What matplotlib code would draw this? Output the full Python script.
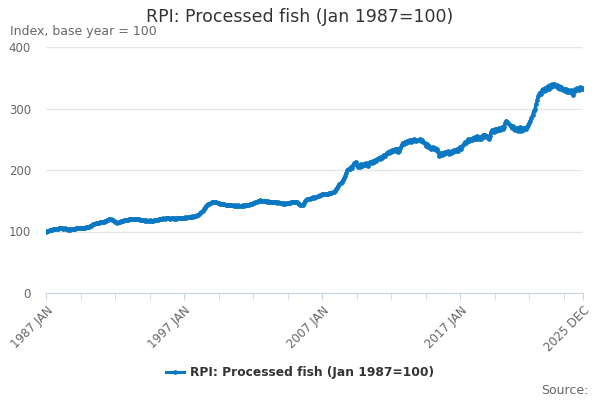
import numpy as np
import matplotlib.pyplot as plt

# Monthly index values, Jan 1987 - Dec 2025 (one row per year)
rpi_fish = [
    100.0, 100.8, 101.5, 102.3, 103.0, 102.6, 103.4, 104.1, 103.8, 104.5, 104.2, 104.9,  # 1987
    105.3, 105.0, 105.6, 104.8, 105.2, 104.1, 103.6, 102.9, 103.4, 103.0, 103.8, 104.2,  # 1988
    104.6, 104.3, 105.0, 105.4, 105.1, 105.7, 105.3, 105.9, 106.2, 105.8, 106.4, 106.9,  # 1989
    107.2, 107.8, 108.9, 109.6, 110.8, 112.0, 112.6, 113.4, 113.1, 114.0, 114.6, 114.9,  # 1990
    115.3, 115.8, 116.2, 116.9, 117.5, 118.4, 119.2, 120.1, 119.6, 118.8, 117.9, 117.0,  # 1991
    116.2, 115.1, 114.4, 114.9, 115.6, 116.3, 117.0, 117.8, 118.2, 118.9, 119.3, 119.0,  # 1992
    119.6, 120.2, 119.8, 120.5, 120.9, 120.4, 121.0, 120.6, 120.2, 119.7, 119.2, 118.8,  # 1993
    118.3, 118.0, 117.6, 118.1, 117.7, 117.4, 117.9, 117.5, 117.8, 117.3, 117.9, 118.4,  # 1994
    118.8, 119.3, 119.9, 120.4, 120.1, 120.8, 121.3, 120.9, 121.5, 121.2, 121.7, 121.4,  # 1995
    121.0, 121.6, 121.2, 120.8, 121.3, 120.9, 121.4, 121.8, 121.5, 122.0, 122.4, 122.1,  # 1996
    122.6, 123.0, 122.7, 123.3, 123.8, 123.5, 124.1, 124.6, 124.3, 125.0, 125.6, 126.2,  # 1997
    126.9, 128.0, 129.4, 131.2, 133.5, 136.1, 139.0, 141.8, 143.5, 144.6, 145.3, 146.5,  # 1998
    147.2, 147.9, 148.3, 147.6, 148.0, 146.9, 146.2, 145.4, 144.8, 145.3, 144.6, 144.0,  # 1999
    143.6, 143.1, 143.5, 142.8, 142.4, 142.9, 142.5, 142.1, 142.6, 142.2, 141.8, 142.3,  # 2000
    142.0, 141.6, 142.1, 142.5, 142.2, 142.8, 143.3, 143.0, 143.6, 144.2, 144.8, 145.3,  # 2001
    145.9, 146.6, 147.2, 148.0, 148.9, 150.1, 151.0, 150.2, 149.6, 150.3, 149.5, 148.8,  # 2002
    148.3, 149.0, 148.5, 147.9, 148.4, 147.6, 147.2, 147.8, 147.3, 146.8, 147.4, 146.9,  # 2003
    146.3, 145.8, 145.1, 145.7, 145.3, 146.0, 146.6, 146.2, 146.9, 147.5, 147.9, 148.3,  # 2004
    147.8, 148.4, 147.6, 146.1, 144.8, 143.2, 142.4, 143.6, 145.8, 148.9, 151.2, 152.3,  # 2005
    152.9, 153.4, 154.1, 154.8, 155.3, 154.9, 155.6, 156.4, 157.1, 157.9, 158.6, 159.8,  # 2006
    160.4, 160.9, 160.3, 161.2, 160.7, 161.5, 162.2, 161.8, 162.9, 163.7, 164.5, 166.1,  # 2007
    168.4, 171.2, 174.0, 176.5, 178.2, 180.4, 183.1, 186.7, 190.5, 195.2, 199.8, 202.1,  # 2008
    201.3, 205.4, 203.2, 207.8, 210.6, 213.1, 208.4, 204.6, 207.9, 205.1, 209.3, 206.7,  # 2009
    210.2, 207.5, 211.4, 208.6, 206.9, 210.8, 213.5, 211.2, 214.6, 212.8, 215.9, 214.1,  # 2010
    217.3, 219.8, 218.2, 221.6, 219.9, 223.4, 225.1, 222.8, 226.9, 228.5, 227.1, 230.4,  # 2011
    229.2, 232.6, 231.3, 233.8, 230.9, 234.7, 228.6, 231.5, 236.2, 240.8, 243.9, 242.5,  # 2012
    245.7, 244.1, 247.3, 246.2, 248.9, 245.8, 249.4, 247.1, 250.2, 248.3, 246.7, 249.5,  # 2013
    248.1, 250.4, 247.6, 249.2, 246.3, 243.1, 239.8, 241.5, 237.6, 239.2, 236.4, 234.8,  # 2014
    237.3, 233.9, 235.6, 231.8, 233.4, 228.7, 222.5, 226.9, 224.1, 228.3, 226.2, 229.5,  # 2015
    227.4, 230.1, 226.8, 229.7, 228.2, 231.4, 229.8, 232.5, 230.6, 233.9, 231.7, 235.2,  # 2016
    237.1, 234.8, 239.5, 242.3, 245.1, 243.6, 247.2, 249.8, 246.9, 250.7, 248.4, 252.1,  # 2017
    250.3, 253.6, 251.2, 254.8, 249.7, 252.9, 250.6, 254.3, 256.8, 253.5, 257.2, 255.1,  # 2018
    252.8, 250.4, 254.6, 262.3, 264.8, 261.7, 266.2, 263.5, 267.4, 264.9, 268.1, 265.7,  # 2019
    269.3, 266.8, 270.5, 276.2, 280.1, 278.4, 276.3, 273.9, 271.2, 268.6, 271.4, 267.3,  # 2020
    264.7, 268.2, 262.9, 266.5, 269.8, 264.2, 268.7, 265.3, 269.1, 266.4, 270.2, 272.6,  # 2021
    275.8, 280.4, 284.7, 290.2, 295.6, 299.3, 306.8, 313.5, 320.2, 325.7, 324.1, 329.4,  # 2022
    331.2, 327.8, 333.6, 330.4, 335.9, 332.1, 337.4, 334.2, 339.1, 336.5, 340.3, 335.8,  # 2023
    337.6, 333.2, 336.1, 331.5, 334.7, 329.8, 332.4, 328.6, 331.9, 327.4, 330.6, 326.9,  # 2024
    329.3, 324.5, 321.8, 327.6, 331.2, 329.4, 333.1, 330.7, 334.2, 331.8, 333.5, 331.2,  # 2025
]

label_months = [0, 120, 240, 360, 467]
label_text = ["1987 JAN", "1997 JAN", "2007 JAN", "2017 JAN", "2025 DEC"]
tick_months = list(range(0, 468, 30)) + [467]
y_ticks = [0, 100, 200, 300, 400]

LINE = "#0a78c2"
GREY = "#666666"

fig = plt.figure(figsize=(6, 4), dpi=100)
ax = fig.add_axes([0.077, 0.2675, 0.895, 0.615])

months = np.arange(len(rpi_fish))
ax.plot(months, rpi_fish, color=LINE, lw=2.2, marker="o", ms=2.4,
        label="RPI: Processed fish (Jan 1987=100)")

ax.set_xlim(0, 467)
ax.set_ylim(0, 400)
ax.set_yticks(y_ticks)
ax.grid(axis="y", color="#e6e6e6", lw=1)
ax.set_axisbelow(True)

ax.set_xticks(tick_months, minor=True)
ax.set_xticks(label_months)
ax.set_xticklabels(label_text, rotation=45, ha="right", rotation_mode="anchor")
ax.tick_params(axis="x", which="both", length=5, color="#ccd6eb", labelsize=8.5,
               labelcolor=GREY, pad=3)
ax.tick_params(axis="y", length=0, labelsize=8.5, labelcolor=GREY, pad=11)

for side in ["top", "right", "left"]:
    ax.spines[side].set_visible(False)
ax.spines["bottom"].set_color("#ccd6eb")

fig.text(0.5, 0.957, "RPI: Processed fish (Jan 1987=100)", ha="center", va="center",
         fontsize=12.5, color="#333333")
fig.text(0.017, 0.92, "Index, base year = 100", ha="left", va="center",
         fontsize=9, color=GREY)
fig.text(0.98, 0.025, "Source:", ha="right", va="center", fontsize=9, color=GREY)

leg = fig.legend(loc="center", bbox_to_anchor=(0.5, 0.068), frameon=False,
                 handlelength=1.5, handletextpad=0.5, fontsize=8.8)
for t in leg.get_texts():
    t.set_fontweight("bold")
    t.set_color("#333333")

fig.savefig("out.png", dpi=100)
